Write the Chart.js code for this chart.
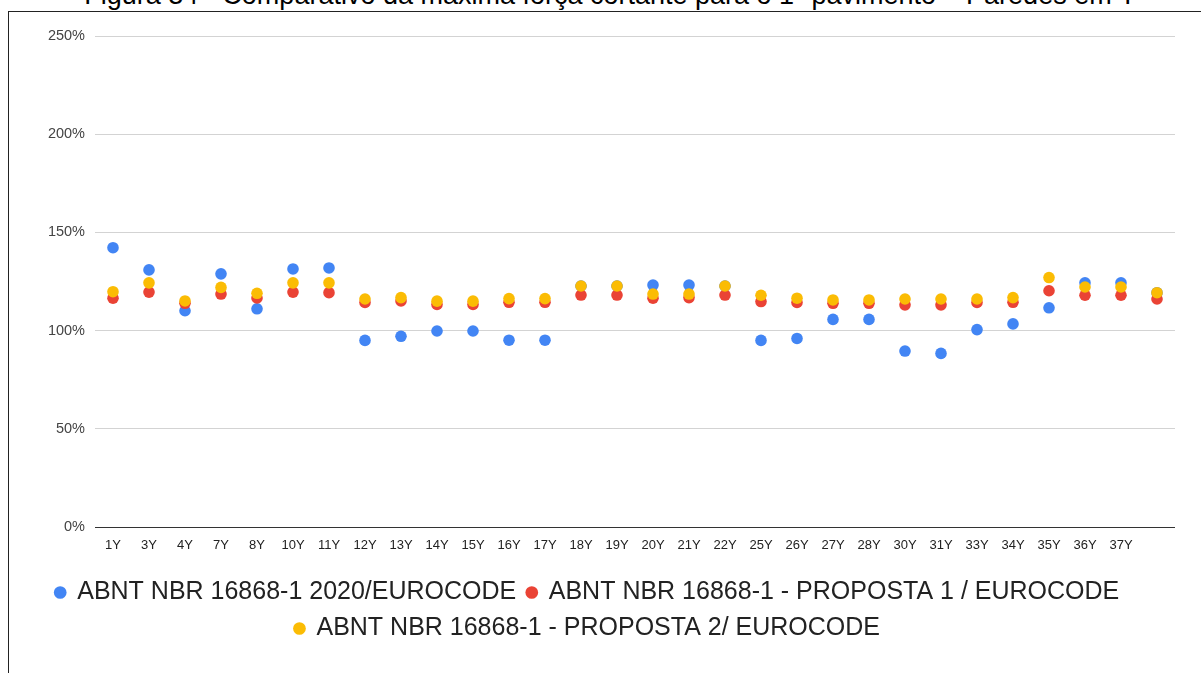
<!DOCTYPE html>
<html lang="pt">
<head>
<meta charset="utf-8">
<title>Força cortante - Paredes em Y</title>
<script src="https://cdn.jsdelivr.net/npm/chart.js"></script>
<style>
  html, body { margin: 0; padding: 0; background: #fff; overflow: hidden; }
  body { width: 1201px; height: 673px; position: relative; }
  #titulo {
    position: absolute; left: 0; top: -18px; width: 1221px;
    text-align: center; font: 27px/27px "Liberation Sans", Arial, sans-serif;
    color: #000; white-space: nowrap;
  }
  #moldura {
    position: absolute; left: 8px; top: 11px; width: 1200px; height: 700px;
    border-left: 1px solid #222; border-top: 1px solid #222; pointer-events: none;
  }
  #grafico { position: absolute; left: 0; top: 0; }
</style>
</head>
<body>
<div id="titulo">Figura 34 - Comparativo da máxima força cortante para o 1º pavimento – Paredes em Y</div>
<div id="moldura"></div>
<canvas id="grafico" width="1201" height="673"></canvas>

<script>
// ---------- dados (%) ----------
const paredes = [
  "1Y", "3Y", "4Y", "7Y", "8Y", "10Y", "11Y", "12Y", "13Y", "14Y",
  "15Y", "16Y", "17Y", "18Y", "19Y", "20Y", "21Y", "22Y", "25Y", "26Y",
  "27Y", "28Y", "30Y", "31Y", "33Y", "34Y", "35Y", "36Y", "37Y", ""
];

const nbr2020 = [
  142.2, 130.9, 110.1, 128.9, 111.1, 131.4, 131.9, 95.0, 97.1, 99.8,
  99.8, 95.1, 95.1, 122.7, 122.7, 123.2, 123.2, 122.7, 95.0, 96.0,
  105.7, 105.7, 89.6, 88.4, 100.5, 103.4, 111.6, 124.3, 124.3, 119.3
];

const proposta1 = [
  116.5, 119.6, 113.9, 118.6, 116.6, 119.6, 119.3, 114.3, 115.1, 113.3,
  113.3, 114.4, 114.4, 118.1, 118.1, 116.5, 116.8, 118.1, 114.8, 114.3,
  113.9, 113.9, 113.1, 113.1, 114.3, 114.4, 120.3, 118.0, 118.0, 116.1
];

const proposta2 = [
  119.8, 124.3, 115.1, 122.0, 119.0, 124.3, 124.3, 116.1, 116.8, 115.0,
  115.0, 116.3, 116.3, 122.7, 122.7, 118.6, 118.6, 122.7, 118.0, 116.5,
  115.6, 115.6, 116.1, 116.1, 116.1, 116.8, 127.0, 122.2, 122.2, 119.3
];

const yTicks = [0, 50, 100, 150, 200, 250];

// ---------- cores ----------
const AZUL = "#4285f4";
const VERMELHO = "#ea4335";
const AMARELO = "#fbbc04";

function serie(label, data, cor, ordem) {
  return {
    label,
    data,
    backgroundColor: cor,
    borderColor: cor,
    pointRadius: 5.8,
    pointHoverRadius: 5.8,
    pointBorderWidth: 0,
    showLine: false,
    order: ordem // amarelo por cima, azul por baixo
  };
}

const ctx = document.getElementById("grafico").getContext("2d");

new Chart(ctx, {
  type: "line",
  data: {
    labels: paredes,
    datasets: [
      serie("ABNT NBR 16868-1 2020/EUROCODE", nbr2020, AZUL, 2),
      serie("ABNT NBR 16868-1 - PROPOSTA 1 / EUROCODE", proposta1, VERMELHO, 1),
      serie("ABNT NBR 16868-1 - PROPOSTA 2/ EUROCODE", proposta2, AMARELO, 0)
    ]
  },
  options: {
    responsive: false,
    animation: false,
    layout: { padding: { top: 36, right: 26, left: 0, bottom: 22 } },
    plugins: {
      tooltip: { enabled: false },
      legend: {
        position: "bottom",
        labels: {
          usePointStyle: true,
          pointStyle: "circle",
          boxWidth: 9,
          boxHeight: 9,
          padding: 11,
          color: "#222",
          font: { family: "'Liberation Sans', Arial, sans-serif", size: 25 },
          sort: (a, b) => a.datasetIndex - b.datasetIndex
        }
      }
    },
    scales: {
      x: {
        offset: true,
        grid: { display: false, drawTicks: false },
        border: { display: false },
        afterFit: (s) => { s.height = 42; },
        ticks: {
          autoSkip: false,
          maxRotation: 0,
          padding: 11,
          color: "#222",
          font: { family: "'Liberation Sans', Arial, sans-serif", size: 13 }
        }
      },
      y: {
        min: 0,
        max: 250,
        afterFit: (s) => { s.width = 95; },
        afterBuildTicks: (s) => { s.ticks = yTicks.map(v => ({ value: v })); },
        border: { display: false },
        grid: {
          drawTicks: false,
          color: (c) => (c.tick && c.tick.value === 0 ? "#333" : "#d3d3d3"),
          lineWidth: 1
        },
        ticks: {
          padding: 10,
          color: "#444",
          font: { family: "'Liberation Sans', Arial, sans-serif", size: 14.5 },
          callback: (v) => v + "%"
        }
      }
    }
  }
});
</script>
</body>
</html>
